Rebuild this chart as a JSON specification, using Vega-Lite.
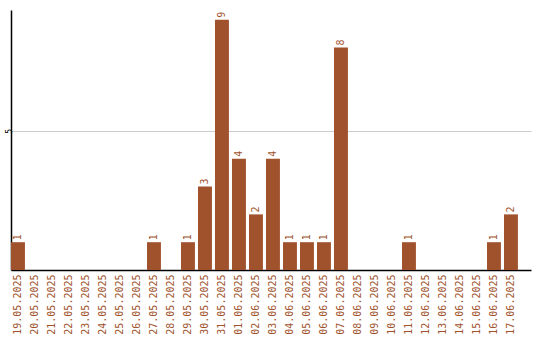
{
  "$schema": "https://vega.github.io/schema/vega-lite/v6.json",
  "width": 520,
  "height": 260,
  "autosize": {"type": "none"},
  "padding": {"left": 11, "top": 10, "right": 9, "bottom": 70},
  "background": "white",
  "config": {"view": {"stroke": null}, "font": "DejaVu Sans Mono"},
  "data": {
    "values": [
      {"date": "19.05.2025", "value": 1},
      {"date": "20.05.2025", "value": 0},
      {"date": "21.05.2025", "value": 0},
      {"date": "22.05.2025", "value": 0},
      {"date": "23.05.2025", "value": 0},
      {"date": "24.05.2025", "value": 0},
      {"date": "25.05.2025", "value": 0},
      {"date": "26.05.2025", "value": 0},
      {"date": "27.05.2025", "value": 1},
      {"date": "28.05.2025", "value": 0},
      {"date": "29.05.2025", "value": 1},
      {"date": "30.05.2025", "value": 3},
      {"date": "31.05.2025", "value": 9},
      {"date": "01.06.2025", "value": 4},
      {"date": "02.06.2025", "value": 2},
      {"date": "03.06.2025", "value": 4},
      {"date": "04.06.2025", "value": 1},
      {"date": "05.06.2025", "value": 1},
      {"date": "06.06.2025", "value": 1},
      {"date": "07.06.2025", "value": 8},
      {"date": "08.06.2025", "value": 0},
      {"date": "09.06.2025", "value": 0},
      {"date": "10.06.2025", "value": 0},
      {"date": "11.06.2025", "value": 1},
      {"date": "12.06.2025", "value": 0},
      {"date": "13.06.2025", "value": 0},
      {"date": "14.06.2025", "value": 0},
      {"date": "15.06.2025", "value": 0},
      {"date": "16.06.2025", "value": 1},
      {"date": "17.06.2025", "value": 2}
    ]
  },
  "encoding": {
    "x": {
      "field": "date",
      "type": "ordinal",
      "sort": null,
      "scale": {"paddingInner": 0.18, "paddingOuter": 0.385, "align": 0},
      "axis": {
        "title": null,
        "labelAngle": 270,
        "labelColor": "#a0522d",
        "labelFontSize": 10,
        "labelFont": "DejaVu Sans Mono",
        "labelPadding": 4,
        "ticks": false,
        "domainColor": "#000000",
        "domainWidth": 1.5,
        "grid": false
      }
    },
    "y": {
      "field": "value",
      "type": "quantitative",
      "scale": {"domain": [0, 9.35], "nice": false},
      "axis": {
        "title": null,
        "values": [5],
        "ticks": false,
        "labelAngle": 270,
        "labelFontSize": 8,
        "labelColor": "#000000",
        "labelPadding": 2,
        "labelBaseline": "middle",
        "labelAlign": "center",
        "domainColor": "#000000",
        "domainWidth": 1.5,
        "grid": true,
        "gridColor": "#cccccc",
        "gridWidth": 1
      }
    }
  },
  "layer": [
    {"mark": {"type": "bar", "color": "#a0522d"}},
    {
      "transform": [{"filter": "datum.value > 0"}],
      "mark": {
        "type": "text",
        "angle": 270,
        "align": "left",
        "baseline": "middle",
        "dx": 2,
        "color": "#a0522d",
        "fontSize": 10,
        "font": "DejaVu Sans Mono"
      },
      "encoding": {"text": {"field": "value", "type": "quantitative"}}
    }
  ]
}
